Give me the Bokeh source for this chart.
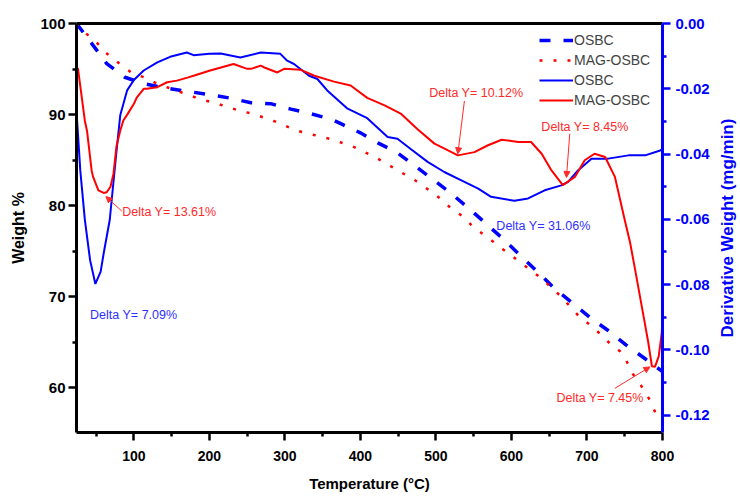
import math
from bokeh.plotting import figure
from bokeh.models import (Range1d, LinearAxis, FixedTicker, PrintfTickFormatter,
                          Legend, LegendItem, Arrow, NormalHead, ColumnDataSource, Label)
from bokeh.core.properties import value
from bokeh.embed import file_html
from bokeh.resources import INLINE

# ---------------- data ----------------
# TG curves (left axis, Weight %)
T_OSBC_TG = [24, 46, 64, 88, 113, 137, 166, 200, 228, 255, 281, 308, 334, 361, 374,
             400, 423, 449, 475, 494, 518, 542, 564, 587, 611, 635, 657, 681, 706,
             728, 752, 777, 788, 800]
W_OSBC = [100, 97.6, 95.6, 94.1, 93.4, 93.0, 92.6, 92.2, 91.8, 91.3, 91.2, 90.6, 90.1,
          89.5, 89.0, 88.0, 86.9, 85.8, 84.2, 83.0, 81.5, 79.8, 78.2, 76.5, 74.6, 72.7,
          70.9, 69.3, 67.6, 66.3, 64.7, 63.2, 62.5, 61.8]

T_MAG_TG = [24, 35, 49, 60, 73, 84, 97, 113, 128, 144, 157, 168, 184, 210, 241, 257,
            285, 317, 361, 390, 405, 420, 449, 476, 491, 507, 520, 536, 549, 562, 575,
            589, 613, 640, 666, 690, 706, 719, 730, 744, 752, 761, 772, 783, 792]
W_MAG = [100, 99.0, 98.1, 97.0, 96.1, 95.4, 94.6, 94.1, 93.5, 93.0, 92.6, 92.3, 91.8,
         91.2, 90.4, 90.1, 89.3, 88.2, 87.3, 86.5, 85.9, 85.3, 83.9, 82.6, 81.7, 80.7,
         79.7, 78.8, 77.7, 76.9, 76.1, 75.2, 73.7, 72.0, 70.0, 67.8, 66.8, 65.8, 64.9,
         64.0, 63.0, 61.5, 60.2, 58.7, 57.0]

# DTG curves (right axis, mg/min)
T_OSBC_DTG = [24, 26, 29, 35, 42, 49, 56, 60, 68, 77, 82, 91, 100, 113, 131, 148, 170,
              179, 200, 215, 241, 268, 294, 303, 312, 332, 343, 356, 383, 409, 436, 449,
              467, 489, 511, 533, 556, 573, 604, 622, 644, 666, 675, 688, 706, 728, 755,
              777, 797, 800]
D_OSBC = [-0.027, -0.034, -0.045, -0.060, -0.0725, -0.0798, -0.076, -0.0704, -0.0602,
          -0.039, -0.028, -0.0205, -0.0173, -0.0144, -0.0119, -0.0102, -0.0089, -0.0097,
          -0.0093, -0.0092, -0.0104, -0.0089, -0.0093, -0.0114, -0.0124, -0.0160, -0.0170,
          -0.0205, -0.0261, -0.0290, -0.0348, -0.0353, -0.0385, -0.0424, -0.0455, -0.0480,
          -0.0506, -0.0531, -0.0543, -0.0536, -0.0511, -0.0496, -0.0485, -0.0450, -0.0414,
          -0.0414, -0.0404, -0.0404, -0.0389, -0.0385]

T_MAG_DTG = [24, 26, 35, 38, 44, 46, 53, 60, 64, 69, 73, 77, 82, 86, 91, 100, 104, 113,
             117, 131, 144, 157, 172, 179, 201, 232, 250, 255, 268, 272, 290, 299, 321,
             339, 365, 387, 409, 432, 454, 476, 498, 516, 529, 551, 569, 587, 609, 626,
             640, 653, 668, 684, 697, 710, 724, 737, 750, 757, 765, 775, 781, 786, 790,
             795, 799, 800]
D_MAG = [-0.0134, -0.0139, -0.0297, -0.033, -0.045, -0.047, -0.0511, -0.0519, -0.0517,
         -0.050, -0.046, -0.0375, -0.0328, -0.0297, -0.0280, -0.0246, -0.0226, -0.0200,
         -0.0200, -0.0195, -0.0180, -0.0175, -0.0165, -0.0160, -0.0144, -0.0124, -0.0139,
         -0.0139, -0.0129, -0.0134, -0.0150, -0.0139, -0.0142, -0.0160, -0.0178, -0.0190,
         -0.0228, -0.0251, -0.0277, -0.0325, -0.0368, -0.0389, -0.0404, -0.0394, -0.0373,
         -0.0356, -0.0363, -0.0363, -0.0399, -0.0450, -0.0495, -0.0470, -0.0419, -0.0399,
         -0.0409, -0.0470, -0.0602, -0.0670, -0.0770, -0.0898, -0.0975, -0.1050, -0.1052,
         -0.1020, -0.0948, -0.0900]

# tick values
X_TICKS = [100, 200, 300, 400, 500, 600, 700, 800]
X_MINOR = [50, 150, 250, 350, 450, 550, 650, 750]
YL_TICKS = [60, 70, 80, 90, 100]
YL_MINOR = [55, 65, 75, 85, 95]
YR_TICKS = [0.0, -0.02, -0.04, -0.06, -0.08, -0.10, -0.12]
YR_MINOR = [-0.01, -0.03, -0.05, -0.07, -0.09, -0.11]

# annotations (left-axis coordinates)
RED_T = "#FF2A2A"
BLUE_T = "#3030FF"
ANN_TEXT = ["Delta Y= 13.61%", "Delta Y= 7.09%", "Delta Y= 10.12%",
            "Delta Y= 8.45%", "Delta Y= 31.06%", "Delta Y= 7.45%"]
ANN_X = [84.5, 42, 491, 639.6, 580, 659.5]
ANN_Y = [79.3, 68.0, 92.4, 88.6, 77.8, 58.9]
ANN_COLOR = [RED_T, BLUE_T, RED_T, RED_T, BLUE_T, RED_T]

ARR_X0 = [84, 537.7, 677.2, 736.9]
ARR_Y0 = [79.4, 91.5, 87.9, 59.95]
ARR_X1 = [63, 529, 672.8, 783.4]
ARR_Y1 = [81.0, 85.7, 83.1, 62.3]

FONT = "Liberation Sans"
BLUE = "#0000FF"
RED = "#FF0000"

W, H = 740, 497
BL, BR, BT, BB = 76, 78, 23, 65
FRAME_W, FRAME_H = W - BL - BR, H - BT - BB

# ---------------- figure ----------------
p = figure(width=W, height=H, x_range=Range1d(24, 800), y_range=Range1d(55.1, 100),
           output_backend="svg", toolbar_location=None,
           min_border_left=BL, min_border_right=BR, min_border_top=BT, min_border_bottom=BB)
p.extra_y_ranges = {"dtg": Range1d(-0.1253, 0.0)}
p.grid.visible = False
p.outline_line_color = None
p.background_fill_color = "white"
p.border_fill_color = "white"

def style_axis(ax, color="black"):
    ax.axis_line_width = 3
    ax.axis_line_color = color
    ax.major_tick_line_width = 2.5
    ax.minor_tick_line_width = 2.5
    ax.major_tick_line_color = color
    ax.minor_tick_line_color = color
    ax.major_tick_out = 8
    ax.major_tick_in = 0
    ax.minor_tick_out = 4
    ax.minor_tick_in = 0
    ax.major_label_text_font = FONT
    ax.major_label_text_font_style = "bold"
    ax.major_label_text_color = color
    ax.axis_label_text_font = FONT
    ax.axis_label_text_font_style = "bold"
    ax.axis_label_text_color = color

xa = p.xaxis[0]
style_axis(xa)
xa.ticker = FixedTicker(ticks=X_TICKS, minor_ticks=X_MINOR)
xa.axis_label = "Temperature (°C)"
xa.axis_label_text_font_size = "15px"
xa.major_label_text_font_size = "14px"
xa.major_label_standoff = 10
xa.axis_label_standoff = 11

ya = p.yaxis[0]
style_axis(ya)
ya.ticker = FixedTicker(ticks=YL_TICKS, minor_ticks=YL_MINOR)
ya.axis_label = "Weight %"
ya.axis_label_text_font_size = "16px"
ya.major_label_text_font_size = "15px"
ya.major_label_standoff = 3
ya.axis_label_standoff = 10

yr = LinearAxis(y_range_name="dtg")
style_axis(yr, BLUE)
yr.ticker = FixedTicker(ticks=YR_TICKS, minor_ticks=YR_MINOR)
yr.formatter = PrintfTickFormatter(format="%.2f")
yr.major_label_text_font_size = "15px"
yr.major_label_standoff = 5
p.add_layout(yr, "right")

# right axis title in its own side panel, reading bottom-to-top, centred vertically
p.add_layout(Label(x=15, y=FRAME_H / 2, x_units="screen", y_units="screen",
                   text="Derivative Weight (mg/min)", angle=math.pi / 2,
                   text_align="center", text_baseline="middle", text_color=BLUE,
                   text_font=FONT, text_font_style="bold", text_font_size="17px"),
             "right")

top = LinearAxis(ticker=FixedTicker(ticks=[]), major_label_text_font_size="0px",
                 major_tick_line_color=None, minor_tick_line_color=None,
                 axis_line_width=3, axis_line_color="black",
                 major_tick_out=0, minor_tick_out=0, major_label_standoff=0)
p.add_layout(top, "above")

# ---------------- curves ----------------
r1 = p.line(T_OSBC_TG, W_OSBC, line_color=BLUE, line_width=3.5, line_dash="11 13")
r2 = p.line(T_MAG_TG, W_MAG, line_color=RED, line_width=2.5, line_dash="3 11")
r3 = p.line(T_OSBC_DTG, D_OSBC, y_range_name="dtg", line_color=BLUE, line_width=2)
r4 = p.line(T_MAG_DTG, D_MAG, y_range_name="dtg", line_color=RED, line_width=2)

# ---------------- annotations ----------------
src = ColumnDataSource(dict(x=ANN_X, y=ANN_Y, t=ANN_TEXT, c=ANN_COLOR))
p.text(x="x", y="y", text="t", text_color="c", source=src, text_font=value(FONT),
       text_font_size="12.5px", text_align="left", text_baseline="middle")

asrc = ColumnDataSource(dict(x0=ARR_X0, y0=ARR_Y0, x1=ARR_X1, y1=ARR_Y1))
p.add_layout(Arrow(end=NormalHead(size=6, fill_color=RED_T, line_color=RED_T, line_width=1),
                   source=asrc, x_start="x0", y_start="y0", x_end="x1", y_end="y1",
                   line_color=RED_T, line_width=1))

# ---------------- legend ----------------
legend = Legend(items=[LegendItem(label="OSBC", renderers=[r1]),
                       LegendItem(label="MAG-OSBC", renderers=[r2]),
                       LegendItem(label="OSBC", renderers=[r3]),
                       LegendItem(label="MAG-OSBC", renderers=[r4])],
                location=(463, 322), padding=0, margin=0, spacing=0,
                glyph_width=34, glyph_height=20, label_height=20, label_standoff=1,
                label_text_font=FONT, label_text_font_size="14px",
                background_fill_alpha=0, border_line_alpha=0)
p.add_layout(legend)

open("out.html", "w").write(file_html(p, INLINE))
